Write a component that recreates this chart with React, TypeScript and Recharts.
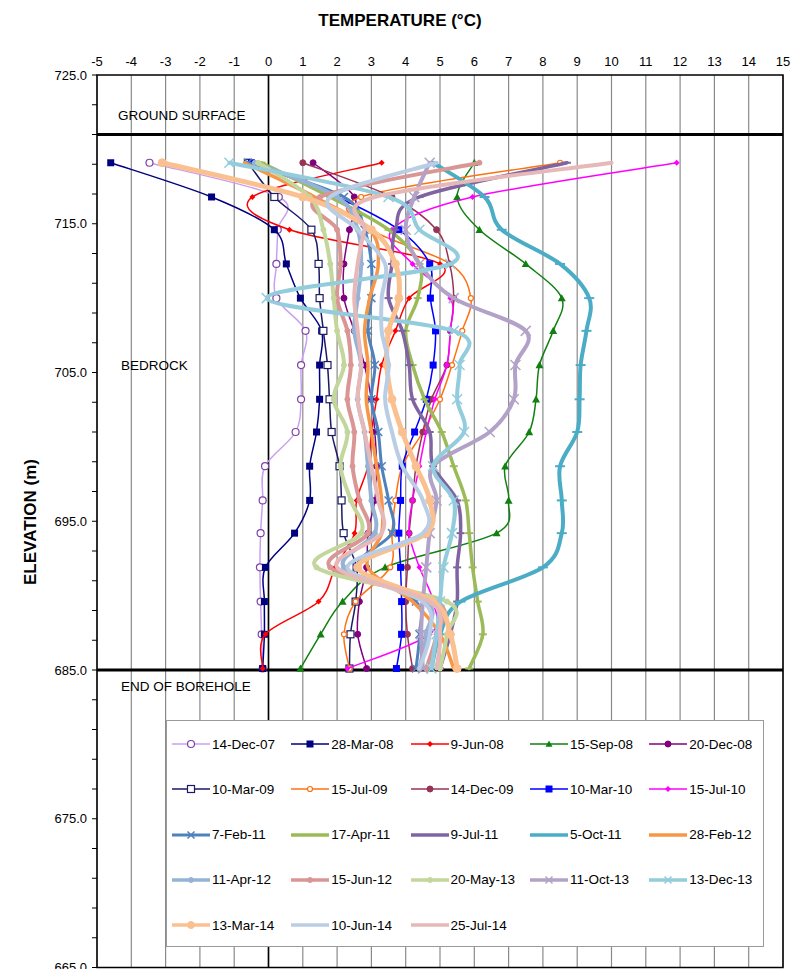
import React from "react";
import {
  CartesianGrid,
  ReferenceArea,
  ReferenceLine,
  Scatter,
  ScatterChart,
  XAxis,
  YAxis,
} from "recharts";

// thermistor elevations (m), top to bottom
const ELEVATIONS = [
  719.1, 716.8, 714.6, 712.3, 710.0, 707.8, 705.5, 703.2, 701.0, 698.7, 696.4,
  694.2, 691.9, 689.6, 687.4, 685.1,
];

const TEMP_TICKS = [
  -5, -4, -3, -2, -1, 0, 1, 2, 3, 4, 5, 6, 7, 8, 9, 10, 11, 12, 13, 14, 15,
];
const ELEV_TICKS = [
  665, 667, 669, 671, 673, 675, 677, 679, 681, 683, 685, 687, 689, 691, 693,
  695, 697, 699, 701, 703, 705, 707, 709, 711, 713, 715, 717, 719, 721, 723,
  725,
];

// temperatures (°C) per survey, same order as ELEVATIONS
const T_14DEC07 = [-3.47, 0.3, 0.27, 0.23, 0.23, 1.08, 0.95, 0.95, 0.79, -0.1, -0.17, -0.23, -0.25, -0.23, -0.2, -0.17];
const T_28MAR08 = [-4.6, -1.66, 0.17, 0.52, 0.93, 1.55, 1.49, 1.49, 1.4, 1.2, 1.2, 0.76, -0.09, -0.12, -0.12, -0.17];
const T_9JUN08 = [3.3, -0.47, 0.61, 5.0, 4.1, 3.7, 3.3, 3.15, 3.0, 2.9, 2.57, 2.51, 1.95, 1.46, -0.09, -0.17];
const T_15SEP08 = [6.0, 5.5, 6.15, 7.5, 8.55, 8.3, 7.9, 7.8, 7.6, 6.9, 7.0, 6.65, 3.4, 2.16, 1.52, 0.93];
const T_20DEC08 = [1.3, 2.5, 2.36, 2.2, 2.2, 2.5, 2.8, 3.0, 3.1, 3.15, 3.1, 2.9, 2.86, 2.65, 2.6, 2.86];
const T_10MAR09 = [-0.6, 0.17, 1.25, 1.46, 1.49, 1.6, 1.72, 1.78, 1.84, 2.07, 2.13, 2.19, 2.57, 2.54, 2.39, 2.36];
const T_15JUL09 = [8.5, 2.7, 3.0, 5.3, 5.9, 5.65, 5.35, 5.0, 4.5, 3.9, 3.7, 3.6, 3.55, 2.54, 2.2, 2.36];
const T_14DEC09 = [1.0, 3.6, 4.9, 5.28, 5.4, 5.3, 5.2, 4.75, 4.5, 4.3, 4.2, 4.1, 4.05, 4.0, 4.05, 4.2];
const T_10MAR10 = [-0.5, 2.0, 3.8, 4.7, 4.72, 4.87, 4.8, 4.6, 4.26, 3.9, 3.85, 3.8, 3.85, 3.88, 3.88, 3.73];
const T_15JUL10 = [11.9, 5.95, 3.6, 4.2, 5.3, 5.3, 5.2, 4.85, 4.6, 4.4, 4.2, 4.1, 4.4, 4.8, 4.7, 2.3];
const T_7FEB11 = [-0.6, 2.2, 2.8, 3.0, 3.0, 2.9, 3.1, 3.0, 3.2, 3.3, 3.5, 3.6, 2.6, 4.3, 4.4, 4.3];
const T_17APR11 = [-0.2, 1.8, 3.5, 4.4, 4.35, 4.0, 4.2, 4.55, 5.05, 5.4, 5.75, 5.85, 5.95, 6.1, 6.25, 5.85];
const T_9JUL11 = [8.7, 4.4, 3.7, 3.6, 3.5, 3.9, 4.1, 4.2, 4.7, 4.8, 5.5, 5.6, 5.5, 5.5, 5.3, 5.0];
const T_5OCT11 = [4.8, 6.3, 6.8, 8.5, 9.35, 9.27, 9.1, 9.07, 9.0, 8.5, 8.55, 8.55, 8.0, 5.6, 5.0, 4.75];
const T_28FEB12 = [-0.7, 1.35, 2.95, 3.2, 2.95, 2.8, 2.9, 2.85, 3.0, 3.15, 3.3, 3.3, 2.9, 4.2, 5.0, 5.4];
const T_11APR12 = [-0.4, 2.0, 2.6, 2.7, 2.6, 2.5, 2.7, 2.6, 2.8, 2.9, 3.0, 3.1, 2.2, 4.6, 4.6, 4.4];
const T_15JUN12 = [6.15, 1.5, 2.0, 2.1, 2.0, 2.3, 2.4, 2.3, 2.5, 2.45, 2.65, 2.9, 1.8, 4.9, 4.9, 4.6];
const T_20MAY13 = [-0.3, 1.2, 1.6, 1.8, 1.9, 2.0, 2.2, 1.9, 2.3, 2.1, 2.4, 2.7, 1.4, 5.2, 5.2, 5.0];
const T_11OCT13 = [4.7, 4.25, 4.0, 4.4, 5.4, 7.5, 7.2, 7.15, 6.45, 4.8, 4.9, 4.7, 4.6, 4.5, 4.45, 4.5];
const T_13DEC13 = [-1.14, 3.5, 4.4, 5.3, -0.05, 5.4, 5.57, 5.5, 5.7, 4.8, 5.4, 5.35, 5.1, 5.0, 4.9, 4.75];
const T_13MAR14 = [-3.1, 1.0, 3.0, 3.7, 3.8, 3.5, 3.45, 3.6, 3.9, 4.3, 4.7, 4.6, 2.6, 4.8, 5.3, 5.5];
const T_10JUN14 = [4.9, 1.8, 2.6, 3.4, 3.3, 3.3, 3.5, 3.4, 3.6, 3.9, 4.5, 4.5, 2.3, 4.5, 4.7, 4.4];
const T_25JUL14 = [10.0, 3.1, 2.8, 2.6, 2.5, 2.6, 2.7, 2.6, 2.8, 3.0, 3.2, 3.3, 2.0, 4.7, 5.0, 4.9];

type MarkerKind =
  | "circle"
  | "openCircle"
  | "square"
  | "openSquare"
  | "diamond"
  | "triangle"
  | "cross"
  | "dash"
  | "none";

type SeriesDef = {
  name: string;
  values: number[];
  color: string;
  width: number;
  marker: MarkerKind;
  markerColor?: string;
  size?: number;
};

const SERIES: SeriesDef[] = [
  { name: "14-Dec-07", values: T_14DEC07, color: "#c9a0f0", width: 1.5, marker: "openCircle", markerColor: "#8040a8", size: 3.5 },
  { name: "28-Mar-08", values: T_28MAR08, color: "#000080", width: 1.5, marker: "square", size: 3.5 },
  { name: "9-Jun-08", values: T_9JUN08, color: "#ff0000", width: 1.5, marker: "diamond", size: 3 },
  { name: "15-Sep-08", values: T_15SEP08, color: "#108010", width: 1.5, marker: "triangle", size: 4 },
  { name: "20-Dec-08", values: T_20DEC08, color: "#800080", width: 1.5, marker: "circle", size: 3 },
  { name: "10-Mar-09", values: T_10MAR09, color: "#1a1a66", width: 1.5, marker: "openSquare", size: 3.5 },
  { name: "15-Jul-09", values: T_15JUL09, color: "#ff7010", width: 1.5, marker: "openCircle", size: 2.5 },
  { name: "14-Dec-09", values: T_14DEC09, color: "#993355", width: 1.5, marker: "circle", size: 3 },
  { name: "10-Mar-10", values: T_10MAR10, color: "#0000ff", width: 1.5, marker: "square", size: 3.5 },
  { name: "15-Jul-10", values: T_15JUL10, color: "#ff00ff", width: 1.5, marker: "diamond", size: 3 },
  { name: "7-Feb-11", values: T_7FEB11, color: "#4f81bd", width: 3, marker: "cross", size: 4 },
  { name: "17-Apr-11", values: T_17APR11, color: "#9bbb59", width: 3.5, marker: "dash", size: 4 },
  { name: "9-Jul-11", values: T_9JUL11, color: "#8064a2", width: 3.5, marker: "dash", size: 4 },
  { name: "5-Oct-11", values: T_5OCT11, color: "#4bacc6", width: 4, marker: "dash", size: 5 },
  { name: "28-Feb-12", values: T_28FEB12, color: "#f79646", width: 3.5, marker: "none" },
  { name: "11-Apr-12", values: T_11APR12, color: "#95b3d7", width: 4, marker: "circle", size: 2.5 },
  { name: "15-Jun-12", values: T_15JUN12, color: "#d99694", width: 4, marker: "circle", size: 2.5 },
  { name: "20-May-13", values: T_20MAY13, color: "#c3d69b", width: 4, marker: "circle", size: 2.5 },
  { name: "11-Oct-13", values: T_11OCT13, color: "#b3a2c7", width: 4, marker: "cross", size: 5 },
  { name: "13-Dec-13", values: T_13DEC13, color: "#93cddd", width: 4, marker: "cross", size: 5 },
  { name: "13-Mar-14", values: T_13MAR14, color: "#fac090", width: 5, marker: "circle", size: 4 },
  { name: "10-Jun-14", values: T_10JUN14, color: "#b9cde5", width: 4, marker: "none" },
  { name: "25-Jul-14", values: T_25JUL14, color: "#e6b9b8", width: 4, marker: "none" },
];

const FONT = '"Liberation Sans", Arial, sans-serif';

// Excel-style smoothed line (Catmull-Rom as cubic Bezier)
const excelSmooth: any = (context: any) => {
  let pts: number[][] = [];
  return {
    areaStart() {},
    areaEnd() {},
    lineStart() {
      pts = [];
    },
    point(x: number, y: number) {
      pts.push([+x, +y]);
    },
    lineEnd() {
      const n = pts.length;
      if (!n) return;
      context.moveTo(pts[0][0], pts[0][1]);
      for (let i = 0; i < n - 1; i++) {
        const p0 = pts[i > 0 ? i - 1 : i];
        const p1 = pts[i];
        const p2 = pts[i + 1];
        const p3 = pts[i + 2 < n ? i + 2 : i + 1];
        context.bezierCurveTo(
          p1[0] + (p2[0] - p0[0]) / 6,
          p1[1] + (p2[1] - p0[1]) / 6,
          p2[0] - (p3[0] - p1[0]) / 6,
          p2[1] - (p3[1] - p1[1]) / 6,
          p2[0],
          p2[1]
        );
      }
    },
  };
};

function drawMarker(kind: MarkerKind, cx: number, cy: number, color: string, s: number) {
  switch (kind) {
    case "circle":
      return <circle cx={cx} cy={cy} r={s} fill={color} stroke={color} />;
    case "openCircle":
      return <circle cx={cx} cy={cy} r={s} fill="#fff" stroke={color} strokeWidth={1.2} />;
    case "square":
      return <rect x={cx - s} y={cy - s} width={2 * s} height={2 * s} fill={color} />;
    case "openSquare":
      return <rect x={cx - s} y={cy - s} width={2 * s} height={2 * s} fill="#fff" stroke={color} strokeWidth={1.2} />;
    case "diamond":
      return <path d={`M${cx},${cy - s}L${cx + s},${cy}L${cx},${cy + s}L${cx - s},${cy}Z`} fill={color} />;
    case "triangle":
      return <path d={`M${cx},${cy - s}L${cx + s},${cy + s * 0.8}L${cx - s},${cy + s * 0.8}Z`} fill={color} />;
    case "cross":
      return (
        <path
          d={`M${cx - s},${cy - s}L${cx + s},${cy + s}M${cx - s},${cy + s}L${cx + s},${cy - s}`}
          stroke={color}
          strokeWidth={1.5}
        />
      );
    case "dash":
      return <path d={`M${cx - s},${cy}L${cx + s},${cy}`} stroke={color} strokeWidth={2} />;
    default:
      return <g />;
  }
}

function makeShape(s: SeriesDef) {
  return (props: any) => {
    const { cx, cy } = props;
    if (cx == null || cy == null) return <g />;
    return drawMarker(s.marker, cx, cy, s.markerColor ?? s.color, s.size ?? 3);
  };
}

function LegendBox() {
  return (
    <div
      style={{
        position: "absolute",
        left: 166,
        top: 720,
        width: 598,
        height: 227,
        background: "#fff",
        border: "1px solid #9a9a9a",
        boxSizing: "border-box",
        fontFamily: FONT,
        fontSize: 13.5,
        color: "#000",
      }}
    >
      {SERIES.map((s, i) => {
        const row = Math.floor(i / 5);
        const col = i % 5;
        const lw = Math.min(s.width, 3.5);
        return (
          <div
            key={s.name}
            style={{
              position: "absolute",
              left: 5 + col * 119.3,
              top: 23 + row * 45.3 - 10,
              height: 20,
              display: "flex",
              alignItems: "center",
              whiteSpace: "nowrap",
            }}
          >
            <svg width={38} height={14} style={{ marginRight: 2 }}>
              <line x1={0} y1={7} x2={38} y2={7} stroke={s.color} strokeWidth={lw} />
              {drawMarker(s.marker, 19, 7, s.markerColor ?? s.color, Math.min(s.size ?? 3, 3.5))}
            </svg>
            <span>{s.name}</span>
          </div>
        );
      })}
    </div>
  );
}

const textStyle: React.CSSProperties = {
  position: "absolute",
  fontFamily: FONT,
  fontSize: 13.5,
  color: "#000",
  whiteSpace: "nowrap",
  lineHeight: "16px",
};

export default function App() {
  return (
    <div style={{ position: "absolute", left: 0, top: 0, width: 792, height: 969, background: "#fff", overflow: "hidden" }}>
      <ScatterChart width={792} height={969} margin={{ top: 45, left: 37, right: 9, bottom: 1.5 }}>
        <CartesianGrid horizontal={false} stroke="#8a8a8a" strokeWidth={1.2} />
        <XAxis
          type="number"
          dataKey="x"
          orientation="top"
          domain={[-5, 15]}
          ticks={TEMP_TICKS}
          interval={0}
          allowDataOverflow
          height={30}
          axisLine={false}
          tickSize={0}
          tickMargin={9}
          tick={{ fontSize: 13, fill: "#000", fontFamily: FONT }}
        />
        <YAxis
          type="number"
          dataKey="y"
          domain={[665, 725]}
          ticks={ELEV_TICKS}
          interval={0}
          allowDataOverflow
          width={60}
          axisLine={false}
          tickSize={5}
          tickMargin={5}
          tickLine={{ stroke: "#000" }}
          tick={{ fontSize: 13, fill: "#000", fontFamily: FONT }}
          tickFormatter={(v: number) => ((725 - v) % 10 === 0 ? v.toFixed(1) : "")}
        />
        <ReferenceLine x={0} stroke="#000" strokeWidth={1.6} />
        {SERIES.map((s) => (
          <Scatter
            key={s.name}
            name={s.name}
            data={s.values.map((v, i) => ({ x: v, y: ELEVATIONS[i] }))}
            fill={s.color}
            line={{ stroke: s.color, strokeWidth: s.width, strokeLinejoin: "round", strokeLinecap: "round" }}
            lineType="joint"
            lineJointType={excelSmooth}
            shape={makeShape(s)}
            isAnimationActive={false}
          />
        ))}
        <ReferenceLine y={721} stroke="#000" strokeWidth={3} />
        <ReferenceLine y={685} stroke="#000" strokeWidth={3} />
        <ReferenceArea x1={-5} x2={15} y1={665} y2={725} fill="none" stroke="#000" strokeWidth={1.5} />
      </ScatterChart>

      <div style={{ ...textStyle, left: 300, width: 200, top: 13, textAlign: "center", fontSize: 17, fontWeight: "bold" }}>
        TEMPERATURE (°C)
      </div>
      <div
        style={{
          ...textStyle,
          left: 31 - 80,
          top: 522 - 10,
          width: 160,
          textAlign: "center",
          fontSize: 17,
          fontWeight: "bold",
          lineHeight: "20px",
          transform: "rotate(-90deg)",
        }}
      >
        ELEVATION (m)
      </div>
      <div style={{ ...textStyle, left: 118, top: 108 }}>GROUND SURFACE</div>
      <div style={{ ...textStyle, left: 121, top: 358 }}>BEDROCK</div>
      <div style={{ ...textStyle, left: 121, top: 679 }}>END OF BOREHOLE</div>
      <LegendBox />
    </div>
  );
}
